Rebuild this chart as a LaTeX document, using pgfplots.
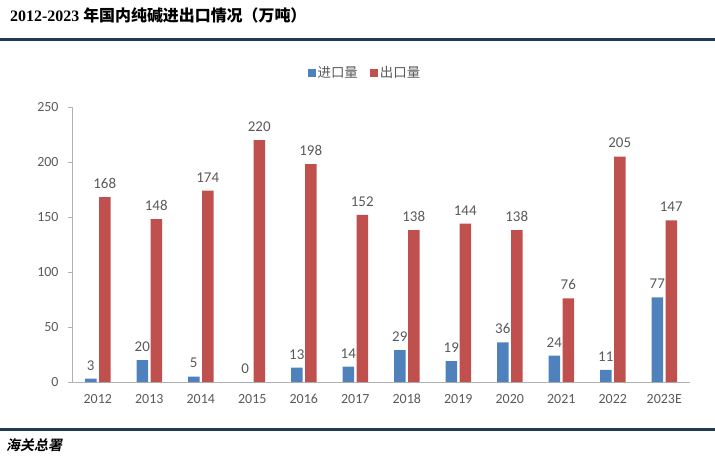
\documentclass[border=0pt]{standalone}
\usepackage{pgfplots}
\pgfplotsset{compat=1.18}
\usepackage{fontspec}
\setmainfont{Liberation Serif}
\newfontfamily\cjk{Noto Sans CJK SC}
\newfontfamily\cjkbi{Noto Sans CJK SC Bold}[FakeSlant=0.2]
\newfontfamily\calib{Carlito}
\definecolor{imp}{HTML}{4F81BD}
\definecolor{exp}{HTML}{C0504D}
\definecolor{navy}{HTML}{1F3A56}
\definecolor{txt}{HTML}{595959}
\begin{document}
\begin{tikzpicture}
\path[use as bounding box] (0,0) rectangle (715bp,458bp);
\node[anchor=base west,inner sep=0pt] at (10bp,436bp)
  {\fontsize{16}{16}\selectfont\bfseries 2012-2023 {\cjk\bfseries 年国内纯碱进出口情况（万吨）}};
\draw[navy,line width=3bp] (0,418bp) -- (715bp,418bp);
\draw[navy,line width=3bp] (0,28bp) -- (715bp,28bp);
\node[anchor=base west,inner sep=0pt] at (6bp,8bp)
  {\fontsize{14}{14}\selectfont\cjkbi 海关总署};
\begin{axis}[
  at={(72bp,76bp)}, anchor=south west,
  scale only axis, width=618bp, height=275bp,
  ybar=2.5bp, bar width=11.5bp,
  xmin=-0.5, xmax=11.5, ymin=0, ymax=250,
  ytick={0,50,...,250},
  xtick={0,...,11},
  xticklabels={2012,2013,2014,2015,2016,2017,2018,2019,2020,2021,2022,2023E},
  axis x line=bottom, axis y line=left,
  axis line style={draw=gray!60,-},
  x axis line style={-}, y axis line style={-},
  xtick style={draw=none},
  ytick style={draw=gray!60},
  tick align=outside, major tick length=4bp,
  /pgf/number format/assume math mode=true,
  ticklabel style={font=\calib\fontsize{14}{14}\selectfont, text=txt},
  yticklabel style={xshift=-6bp},
  xticklabel style={yshift=-4bp, text height=10bp, text depth=2bp},
  nodes near coords,
  every node near coord/.append style={font=\calib\fontsize{15}{15}\selectfont, text=txt, yshift=5bp},
  legend style={at={(0.474,1.124)}, anchor=center, draw=none, fill=none,
    legend columns=-1, font=\cjk\fontsize{13.5}{13.5}\selectfont, text=txt,
    /tikz/every even column/.append style={column sep=10bp}},
  legend image code/.code={\fill[#1] (0bp,-4bp) rectangle (8bp,4bp);},
]
\addplot[draw=none, fill=imp] coordinates {(0,3) (1,20) (2,5) (3,0) (4,13) (5,14) (6,29) (7,19) (8,36) (9,24) (10,11) (11,77)};
\addplot[draw=none, fill=exp] coordinates {(0,168) (1,148) (2,174) (3,220) (4,198) (5,152) (6,138) (7,144) (8,138) (9,76) (10,205) (11,147)};
\legend{进口量,出口量}
\end{axis}
\end{tikzpicture}
\end{document}
